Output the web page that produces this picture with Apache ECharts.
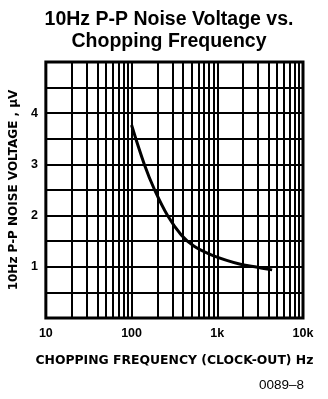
<!DOCTYPE html>
<html><head><meta charset="utf-8">
<script src="https://cdn.jsdelivr.net/npm/echarts@6/dist/echarts.min.js"></script>
<style>html,body{margin:0;padding:0;background:#fff}#c{width:328px;height:399px}</style>
</head><body><div id="c"></div>
<script>
const freqHz = [100, 141, 186, 263, 380, 537, 891, 1862, 2951, 4365];
const noiseUV = [3.77, 3.0, 2.5, 2.0, 1.62, 1.40, 1.22, 1.05, 0.99, 0.94];
const xTickLabels = {10: '10', 100: '100', 1000: '1k', 10000: '10k'};
const yTickLabels = [1, 2, 3, 4];
const minorFreqs = [20,30,40,50,60,70,80,90,200,300,400,500,600,700,800,900,2000,3000,4000,5000,6000,7000,8000,9000];

const chart = echarts.init(document.getElementById('c'), null, {renderer: 'canvas'});
const F = 'Liberation Sans, Arial, sans-serif';
chart.setOption({
  animation: false,
  title: {
    text: '10Hz P-P Noise Voltage vs.\nChopping Frequency',
    left: 164, top: 4, textAlign: 'center',
    textStyle: {fontFamily: F, fontWeight: 'bold', fontSize: 19.5, lineHeight: 22, color: '#000'}
  },
  graphic: [{
    type: 'text', left: 259, top: 378,
    style: {text: '0089\u20138', font: '13.5px ' + F, fill: '#000'}
  }],
  grid: {left: 43, right: 25, top: 62, bottom: 81, show: true, borderColor: '#000', borderWidth: 3, backgroundColor: '#fff'},
  xAxis: {
    type: 'log', logBase: 10, min: 10, max: 10000,
    name: 'CHOPPING FREQUENCY (CLOCK-OUT) Hz', nameLocation: 'middle', nameGap: 37,
    nameTextStyle: {fontFamily: 'DejaVu Sans', fontWeight: 'bold', fontSize: 12.4, color: '#000'},
    axisLine: {show: false}, axisTick: {show: false},
    axisLabel: {margin: 9, color: '#000', fontFamily: F, fontWeight: 'bold', fontSize: 12.5,
      formatter: v => xTickLabels[Math.round(v)] || ''},
    splitLine: {show: true, lineStyle: {color: '#000', width: 2}}
  },
  yAxis: {
    type: 'value', min: 0, max: 5, interval: 0.5,
    name: '10Hz P-P NOISE VOLTAGE , \u00b5V', nameLocation: 'middle', nameGap: 21, nameRotate: 90,
    nameTextStyle: {fontFamily: 'DejaVu Sans', fontWeight: 'bold', fontSize: 12, color: '#000'},
    axisLine: {show: false}, axisTick: {show: false},
    axisLabel: {margin: 8, color: '#000', fontFamily: F, fontWeight: 'bold', fontSize: 12.5,
      formatter: v => yTickLabels.includes(v) ? String(v) : ''},
    splitLine: {show: true, lineStyle: {color: '#000', width: 2}}
  },
  series: [{
    type: 'line', smooth: 0.4, symbol: 'none',
    data: freqHz.map((f, i) => [f, noiseUV[i]]),
    lineStyle: {color: '#000', width: 3},
    z: 5,
    markLine: {
      silent: true, symbol: 'none', animation: false,
      label: {show: false},
      lineStyle: {color: '#000', width: 2, type: 'solid'},
      data: minorFreqs.map(v => ({xAxis: v}))
    }
  }]
});
</script></body></html>
